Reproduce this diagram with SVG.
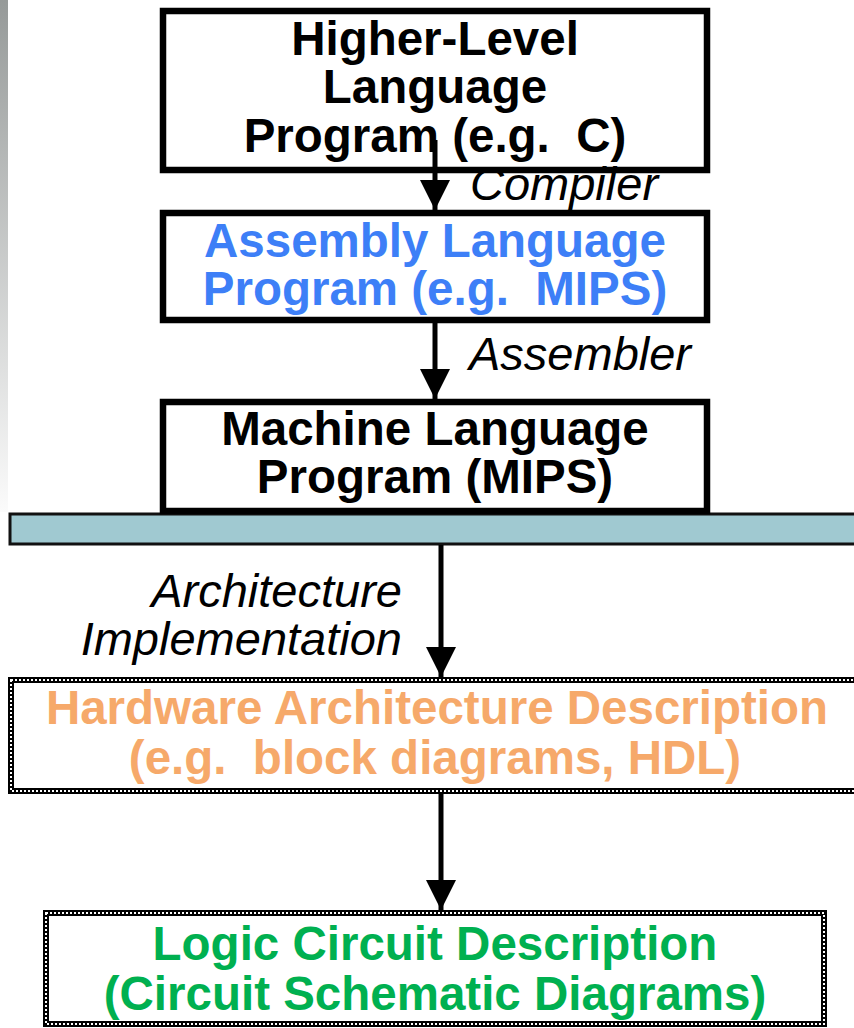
<svg xmlns="http://www.w3.org/2000/svg" width="854" height="1028" viewBox="0 0 854 1028">
  <defs>
    <linearGradient id="edgeFade" x1="0" y1="0" x2="0" y2="1">
      <stop offset="0" stop-color="#969a99"/>
      <stop offset="1" stop-color="#fbfbfb"/>
    </linearGradient>
    <marker id="head" markerUnits="userSpaceOnUse" markerWidth="32" markerHeight="30" refX="30" refY="15" orient="auto">
      <path d="M0,0 L30,15 L0,30 Z" fill="#000"/>
    </marker>
    <style>
      .solid { fill: #fff; stroke: #000; stroke-width: 6.5; }
      .chain { fill: #fff; stroke: #000; stroke-width: 6; }
      .chain-holes { fill: none; stroke: #fff; stroke-width: 2; stroke-dasharray: 2 2; }
      .t { font-family: "Liberation Sans", Arial, sans-serif; font-weight: bold; font-size: 47.5px; text-anchor: middle; white-space: pre; }
      .lbl { font-family: "Liberation Sans", Arial, sans-serif; font-style: italic; font-size: 47px; }
      .conn { stroke: #000; stroke-width: 5; fill: none; marker-end: url(#head); }
    </style>
  </defs>

  <rect width="854" height="1028" fill="#fff"/>
  <!-- shaded slide edge -->
  <rect x="0" y="0" width="8" height="512" fill="url(#edgeFade)"/>

  <!-- ISA boundary bar -->
  <g id="isa-bar">
    <rect x="10" y="514" width="850" height="30" fill="#a0c9d1" stroke="#111" stroke-width="3"/>
  </g>

  <g id="high-level">
    <rect class="solid" x="163" y="11" width="544" height="159"/>
    <text class="t" x="435" y="55">Higher-Level</text>
    <text class="t" x="435" y="103">Language</text>
    <text class="t" x="435" y="152">Program (e.g.  C)</text>
  </g>

  <g id="assembly">
    <rect class="solid" x="163" y="213" width="544" height="107"/>
    <text class="t" x="435" y="257" fill="#3d7ff7">Assembly Language</text>
    <text class="t" x="435" y="305" fill="#3d7ff7">Program (e.g.  MIPS)</text>
  </g>

  <g id="machine">
    <rect class="solid" x="163" y="402" width="544" height="109"/>
    <text class="t" x="435" y="445">Machine Language</text>
    <text class="t" x="435" y="493">Program (MIPS)</text>
  </g>

  <g id="hardware">
    <rect class="chain" x="11" y="680" width="860" height="111"/>
    <rect class="chain-holes" x="11" y="680" width="860" height="111"/>
    <text class="t" x="437" y="724" fill="#f6a96a">Hardware Architecture Description</text>
    <text class="t" x="435" y="774" fill="#f6a96a">(e.g.  block diagrams, HDL)</text>
  </g>

  <g id="logic">
    <rect class="chain" x="46" y="913" width="778" height="111"/>
    <rect class="chain-holes" x="46" y="913" width="778" height="111"/>
    <text class="t" x="435" y="960" fill="#00b050">Logic Circuit Description</text>
    <text class="t" x="435" y="1010" fill="#00b050">(Circuit Schematic Diagrams)</text>
  </g>

  <g id="connectors">
    <line class="conn" x1="435" y1="140" x2="435" y2="210"/>
    <line class="conn" x1="435" y1="323" x2="435" y2="399"/>
    <line class="conn" x1="441" y1="545" x2="441" y2="677"/>
    <line class="conn" x1="441" y1="794" x2="441" y2="910"/>
  </g>

  <g id="labels">
    <text class="lbl" x="470" y="200">Compiler</text>
    <text class="lbl" x="469" y="370">Assembler</text>
    <text class="lbl" x="402" y="607" text-anchor="end">Architecture</text>
    <text class="lbl" x="402" y="655" text-anchor="end">Implementation</text>
  </g>
</svg>
